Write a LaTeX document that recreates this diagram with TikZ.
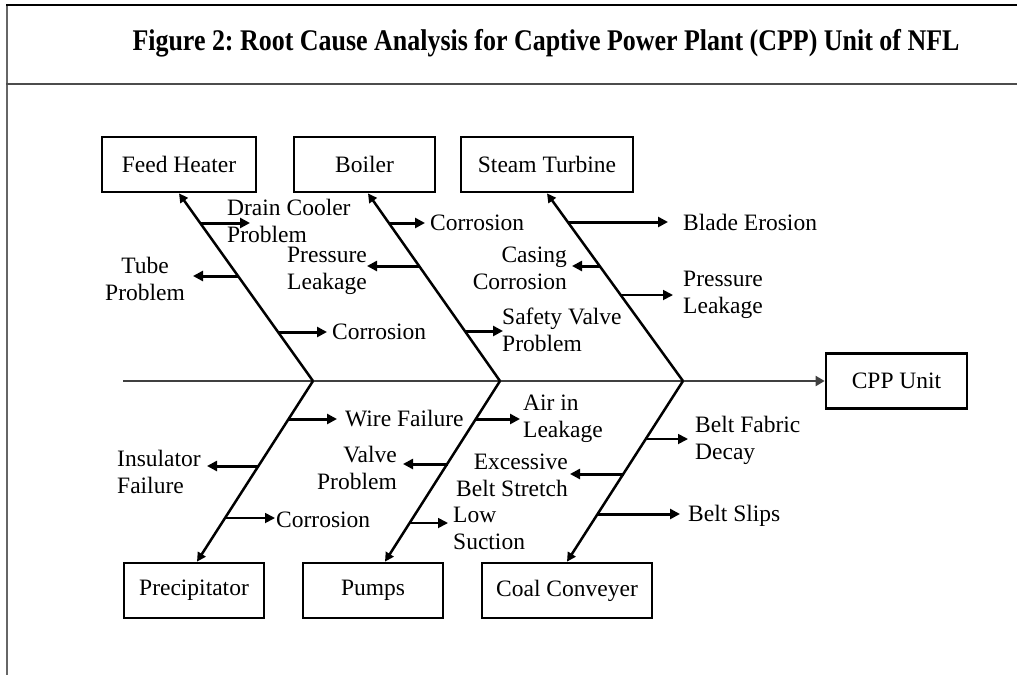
\documentclass[tikz,border=0pt]{standalone}
\usepackage{fontspec}
\setmainfont{Liberation Serif}
\usetikzlibrary{arrows.meta}
\frenchspacing
\begin{document}
\begin{tikzpicture}[x=1pt,y=-1pt,
  box/.style={draw, line width=2.7pt, minimum height=55pt, inner sep=0pt, font=\fontsize{23.5}{27}\selectfont},
  lbl/.style={inner sep=0pt, font=\fontsize{23.5}{27}\selectfont},
  bone/.style={line width=2.5pt, -{Triangle[length=9pt,width=9pt]}},
  br/.style={line width=3pt, -{Triangle[length=10pt,width=10pt]}},
  brthin/.style={line width=1.8pt, -{Triangle[length=10pt,width=10pt]}},
  spine/.style={line width=2pt, black!75, -{Triangle[length=9pt,width=10pt]}},
  frame/.style={line width=2pt, black!70}]
\useasboundingbox (0,0) rectangle (1017,675);
% frame
\draw[frame, line width=2.5pt, black!60] (7,4) -- (7,675);
\draw[frame, black] (6,5) -- (1017,5);
\draw[frame, line width=2.5pt] (6,84) -- (1017,84);
\node[inner sep=0pt] (title) at (546,43) {\resizebox{827pt}{\height}{\fontsize{30}{33}\selectfont\bfseries Figure 2: Root Cause Analysis for Captive Power Plant (CPP) Unit of NFL}};
% boxes
\node[box, minimum width=154pt] (fh) at (179,164.5) {Feed Heater};
\node[box, minimum width=141pt] (bo) at (364.5,164.5) {Boiler};
\node[box, minimum width=172pt] (st) at (547,164.5) {Steam Turbine};
\node[box, minimum width=141pt] (cpp) at (896.5,381) {CPP Unit};
\node[box, minimum width=140pt] (pr) at (194,590.5) {Precipitator};
\node[box, minimum width=140pt] (pu) at (373,590.5) {Pumps};
\node[box, minimum width=170pt] (cc) at (567,590.5) {Coal Conveyer};
% spine and bones
\coordinate (s) at (123,381);
\coordinate (v1) at (313,381);
\coordinate (v2) at (500,381);
\coordinate (v3) at (683,381);
\draw[spine] (s) -- (cpp.west);
\draw[bone] (v1) -- (fh.south);
\draw[bone] (v2) -- ([xshift=3.5pt]bo.south);
\draw[bone] (v3) -- (st.south);
\draw[bone] (v1) -- ([xshift=3pt]pr.north);
\draw[bone] (v2) -- ([xshift=12pt]pu.north);
\draw[bone] (v3) -- (cc.north);
% Feed Heater causes
\coordinate (a1) at (201,223);   \coordinate (a1t) at (250,223);
\coordinate (a2) at (238.6,276); \coordinate (a2t) at (193,276);
\coordinate (a3) at (278.3,332); \coordinate (a3t) at (327,332);
\draw[br] (a1) -- (a1t);
\draw[br] (a2) -- (a2t);
\draw[br] (a3) -- (a3t);
\node[lbl, anchor=west, align=left] (la1) at (227,221) {Drain Cooler\\Problem};
\node[lbl, align=center] (la2) at (145,279) {Tube\\Problem};
\node[lbl, anchor=west] (la3) at (332,332) {Corrosion};
% Boiler causes
\coordinate (b1) at (389.6,223); \coordinate (b1t) at (425,223);
\coordinate (b2) at (419.7,266); \coordinate (b2t) at (367,266);
\coordinate (b3) at (465,331);   \coordinate (b3t) at (503,331);
\draw[br] (b1) -- (b1t);
\draw[br] (b2) -- (b2t);
\draw[br] (b3) -- (b3t);
\node[lbl, anchor=west] (lb1) at (430,223) {Corrosion};
\node[lbl, anchor=east, align=right] (lb2) at (367,271) {Pressure\\Leakage};
\node[lbl, anchor=west, align=left] (lb3) at (502,330) {Safety Valve\\Problem};
% Steam Turbine causes
\coordinate (c1) at (568.6,222); \coordinate (c1t) at (668,222);
\coordinate (c2) at (600,266);   \coordinate (c2t) at (572,266);
\coordinate (c3) at (621,295);   \coordinate (c3t) at (673,295);
\draw[br] (c1) -- (c1t);
\draw[br] (c2) -- (c2t);
\draw[brthin] (c3) -- (c3t);
\node[lbl, anchor=west] (lc1) at (683,222) {Blade Erosion};
\node[lbl, anchor=east, align=right] (lc2) at (567,268) {Casing\\Corrosion};
\node[lbl, anchor=west, align=left] (lc3) at (683,295) {Pressure\\Leakage};
% Precipitator causes
\coordinate (d1) at (288.8,419); \coordinate (d1t) at (337,419);
\coordinate (d2) at (258.8,466); \coordinate (d2t) at (207,466);
\coordinate (d3) at (225.7,518); \coordinate (d3t) at (275,518);
\draw[br] (d1) -- (d1t);
\draw[br] (d2) -- (d2t);
\draw[brthin] (d3) -- (d3t);
\node[lbl, anchor=west] (ld1) at (345,419) {Wire Failure};
\node[lbl, anchor=west, align=left] (ld2) at (117,472) {Insulator\\Failure};
\node[lbl, anchor=west] (ld3) at (276,520) {Corrosion};
% Pumps causes
\coordinate (e1) at (476,419);   \coordinate (e1t) at (520,419);
\coordinate (e2) at (447.6,464); \coordinate (e2t) at (403,464);
\coordinate (e3) at (410.3,523); \coordinate (e3t) at (448,523);
\draw[br] (e1) -- (e1t);
\draw[br] (e2) -- (e2t);
\draw[brthin] (e3) -- (e3t);
\node[lbl, anchor=west, align=left] (le1) at (523,419) {Air in\\Leakage};
\node[lbl, anchor=east, align=right] (le2) at (397,468) {Valve\\Problem};
\node[lbl, anchor=west, align=left] (le3) at (453,528) {Low\\Suction};
% Coal Conveyer causes
\coordinate (f1) at (646,439);   \coordinate (f1t) at (688,439);
\coordinate (f2) at (623.8,474); \coordinate (f2t) at (570,474);
\coordinate (f3) at (598.3,514); \coordinate (f3t) at (680,514);
\draw[brthin] (f1) -- (f1t);
\draw[br] (f2) -- (f2t);
\draw[br] (f3) -- (f3t);
\node[lbl, anchor=west, align=left] (lf1) at (695,440) {Belt Fabric\\Decay};
\node[lbl, anchor=east, align=right] (lf2) at (568,475) {Excessive\\Belt Stretch};
\node[lbl, anchor=west] (lf3) at (688,516) {Belt Slips};
\end{tikzpicture}
\end{document}
